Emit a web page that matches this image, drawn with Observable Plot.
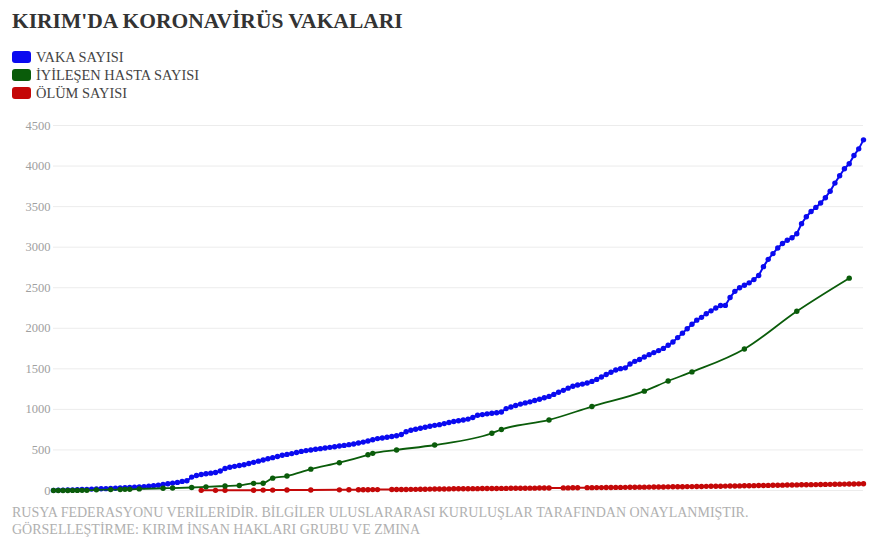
<!DOCTYPE html>
<html>
<head>
<meta charset="utf-8">
<script src="https://cdn.jsdelivr.net/npm/d3@7"></script>
<script src="https://cdn.jsdelivr.net/npm/@observablehq/plot@0.6"></script>
<style>
  html, body { margin: 0; padding: 0; background: #fff; }
  #wrap { position: relative; width: 880px; height: 559px; font-family: "Liberation Serif", "DejaVu Serif", serif; }
  #title { position: absolute; left: 12px; top: 9px; font-size: 21.5px; font-weight: bold; color: #333; white-space: nowrap; }
  .leg { position: absolute; left: 12px; font-size: 14.4px; color: #444; white-space: nowrap; line-height: 18px; }
  .sw { display: inline-block; width: 19px; height: 12px; border-radius: 3px; vertical-align: -1px; margin-right: 5px; }
  #chart { position: absolute; left: 0; top: 110px; }
  .cap { position: absolute; left: 12px; font-size: 14px; color: #b0b0b0; white-space: nowrap; }
</style>
</head>
<body>
<div id="wrap">
  <div id="title"></div>
  <div id="legend"></div>
  <div id="chart"></div>
  <div id="caption"></div>
</div>
<script>
const titleText = "KIRIM'DA KORONAVİRÜS VAKALARI";
const seriesNames = ["VAKA SAYISI", "İYİLEŞEN HASTA SAYISI", "ÖLÜM SAYISI"];
const seriesColors = ["#0a0af0", "#0a5c0a", "#c40808"];
const captionLines = [
  "RUSYA FEDERASYONU VERİLERİDİR. BİLGİLER ULUSLARARASI KURULUŞLAR TARAFINDAN ONAYLANMIŞTIR.",
  "GÖRSELLEŞTİRME: KIRIM İNSAN HAKLARI GRUBU VE ZMINA"
];
const yTicks = [0, 500, 1000, 1500, 2000, 2500, 3000, 3500, 4000, 4500];

// Cases, one value per day (day index 0..170)
const caseValues = [
  2, 3, 5, 6, 8, 10, 12, 14, 17, 19,
  21, 23, 26, 28, 30, 33, 37, 40, 44, 48,
  52, 58, 66, 75, 84, 91, 100, 112, 120, 165,
  185, 198, 207, 214, 222, 240, 272, 287, 298, 308,
  318, 332, 347, 362, 376, 392, 405, 420, 434, 445,
  455, 468, 482, 492, 500, 508, 516, 524, 532, 540,
  548, 556, 565, 574, 585, 597, 610, 625, 640, 648,
  656, 665, 675, 690, 725, 742, 755, 768, 780, 793,
  803, 812, 825, 838, 850, 860, 870, 880, 900, 927,
  936, 945, 952, 958, 968, 1010, 1030, 1048, 1065, 1080,
  1093, 1110, 1125, 1143, 1160, 1185, 1212, 1235, 1262, 1285,
  1300, 1312, 1325, 1345, 1370, 1400, 1430, 1458, 1485, 1502,
  1512, 1560, 1592, 1615, 1645, 1675, 1700, 1725, 1752, 1790,
  1830, 1885, 1940, 1995, 2050, 2100, 2135, 2180, 2215, 2250,
  2280, 2282, 2380, 2455, 2500, 2530, 2560, 2600, 2650, 2760,
  2850, 2920, 2990, 3045, 3085, 3117, 3166, 3290, 3375, 3440,
  3490, 3545, 3610, 3690, 3790, 3880, 3967, 4028, 4130, 4212,
  4323
];

// Recovered: reported days and values
const recoveredDays = [0, 1, 2, 3, 4, 5, 6, 7, 9, 12, 14, 15, 16, 18, 23, 25, 29, 32, 36, 39, 42, 44, 46, 49, 54, 60, 66, 67, 72, 80, 92, 94, 104, 113, 124, 129, 134, 145, 156, 167];
const recoveredValues = [0, 0, 0, 0, 1, 1, 2, 2, 8, 11, 13, 14, 15, 20, 28, 30, 37, 45, 55, 62, 88, 90, 152, 178, 263, 343, 440, 458, 500, 561, 706, 752, 870, 1035, 1225, 1350, 1462, 1745, 2210, 2618];

// Deaths: reported days and values
const deathDays = [31, 34, 36, 42, 44, 46, 49, 54, 60, 62, 64, 65, 66, 67, 68,
  71, 72, 73, 74, 75, 76, 77, 78, 79, 80, 81, 82, 83, 84, 85, 86, 87, 88, 89, 90,
  91, 92, 93, 94, 95, 96, 97, 98, 99, 100, 101, 102, 103, 104,
  107, 108, 109, 110,
  112, 113, 114, 115, 116, 117, 118, 119, 120, 121, 122, 123, 124, 125, 126, 127, 128, 129, 130,
  131, 132, 133, 134, 135, 136, 137, 138, 139, 140, 141, 142, 143, 144, 145, 146, 147, 148, 149, 150,
  151, 152, 153, 154, 155, 156, 157, 158, 159, 160, 161, 162, 163, 164, 165, 166, 167, 168, 169, 170];
const deathValues = [2, 2, 3, 4, 5, 5, 6, 7, 8, 9, 9, 10, 10, 11, 11,
  12, 12, 13, 13, 14, 14, 15, 16, 17, 18, 19, 19, 20, 21, 21, 22, 22, 23, 23, 24,
  24, 25, 25, 26, 26, 27, 27, 28, 28, 29, 29, 30, 30, 31,
  32, 32, 33, 34,
  35, 35, 36, 36, 37, 37, 38, 38, 39, 40, 40, 41, 41, 42, 43, 43, 44, 45, 46,
  46, 47, 48, 48, 49, 50, 51, 52, 52, 53, 54, 55, 56, 57, 58, 59, 60, 61, 62, 63,
  64, 65, 66, 67, 68, 69, 70, 71, 72, 73, 74, 75, 76, 77, 78, 79, 80, 81, 82, 84];

// Build text
document.getElementById("title").textContent = titleText;
const legend = document.getElementById("legend");
seriesNames.forEach((name, i) => {
  const row = document.createElement("div");
  row.className = "leg";
  row.style.top = (48 + i * 18) + "px";
  const sw = document.createElement("span");
  sw.className = "sw";
  sw.style.background = seriesColors[i];
  row.appendChild(sw);
  row.appendChild(document.createTextNode(name));
  legend.appendChild(row);
});
const cap = document.getElementById("caption");
captionLines.forEach((t, i) => {
  const d = document.createElement("div");
  d.className = "cap";
  d.style.top = (505 + i * 17) + "px";
  d.textContent = t;
  cap.appendChild(d);
});

const cases = caseValues.map((v, i) => ({day: i, value: v}));
const recovered = recoveredDays.map((d, i) => ({day: d, value: recoveredValues[i]}));
const deaths = deathDays.map((d, i) => ({day: d, value: deathValues[i]}));

const font = "'Liberation Serif', 'DejaVu Serif', serif";
const chart = Plot.plot({
  width: 880,
  height: 390,
  marginTop: 15,
  marginBottom: 10,
  marginLeft: 53,
  marginRight: 17,
  style: {fontFamily: font, background: "transparent"},
  x: {domain: [0, 170], axis: null},
  y: {domain: [0, 4500], ticks: yTicks, label: null},
  marks: [
    Plot.gridY(yTicks, {stroke: "#ececec", strokeOpacity: 1, strokeWidth: 1}),
    Plot.axisY(yTicks, {tickSize: 0, tickPadding: 3, fill: "#a0a0a0", fontSize: 12.5, tickFormat: d => String(d), label: null}),
    Plot.line(cases, {x: "day", y: "value", stroke: seriesColors[0], strokeWidth: 2}),
    Plot.dot(cases, {x: "day", y: "value", fill: seriesColors[0], r: 2.7}),
    Plot.line(deaths, {x: "day", y: "value", stroke: seriesColors[2], strokeWidth: 2}),
    Plot.dot(deaths, {x: "day", y: "value", fill: seriesColors[2], r: 2.7}),
    Plot.line(recovered, {x: "day", y: "value", stroke: seriesColors[1], strokeWidth: 1.8, curve: "monotone-x"}),
    Plot.dot(recovered, {x: "day", y: "value", fill: seriesColors[1], r: 2.7})
  ]
});
document.getElementById("chart").appendChild(chart);
</script>
</body>
</html>
